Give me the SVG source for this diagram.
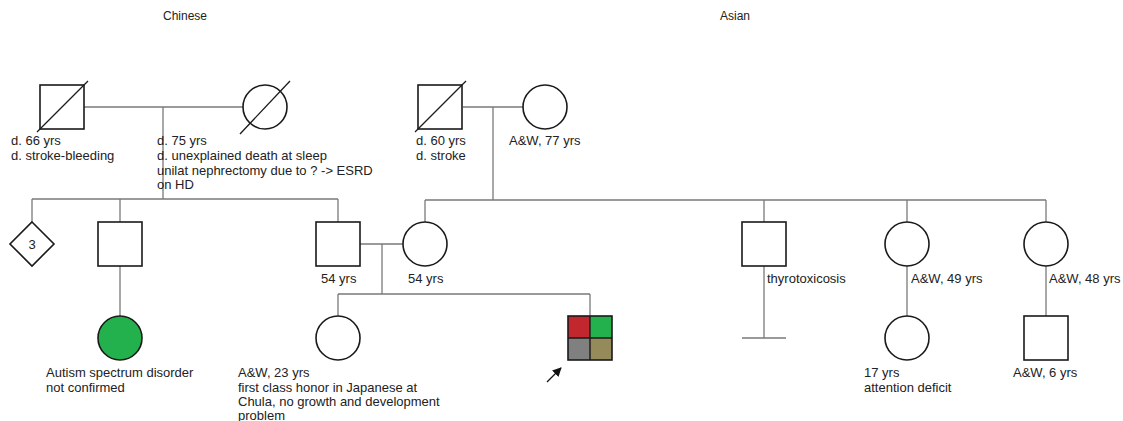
<svg xmlns="http://www.w3.org/2000/svg" width="1123" height="421" viewBox="0 0 1123 421">
<defs>
<style>
.s{fill:#fff;stroke:#1a1a1a;stroke-width:1.6}
.c{fill:none;stroke:#7a7a7a;stroke-width:1.3}
.d{stroke:#1a1a1a;stroke-width:1.3}
text{font-family:"Liberation Sans",Arial,sans-serif;font-size:13px;fill:#222}
.h{font-size:12px}
</style>
<marker id="ah" viewBox="0 0 10 10" refX="9" refY="5" markerWidth="9" markerHeight="9" orient="auto" markerUnits="userSpaceOnUse">
<path d="M0,0 L10,5 L0,10 z" fill="#111"/>
</marker>
</defs>
<rect width="1123" height="421" fill="#fff"/>
<text class="h" x="163" y="20">Chinese</text>
<text class="h" x="720" y="20">Asian</text>
<g id="connectors">
<path class="c" d="M84,107 H243 M163,107 V199 M32,199 H338 M32,199 V222 M120,199 V222 M338,199 V222 M120,266 V316"/>
<path class="c" d="M463,107 H523 M493,107 V200 M425,200 H1046 M425,200 V222 M764,200 V222 M907,200 V222 M1046,200 V222"/>
<path class="c" d="M360,244 H403 M382,244 V294 M338,294 H590 M338,294 V316 M590,294 V316"/>
<path class="c" d="M764,266 V338 M742,338 H786 M907,266 V316 M1046,266 V316"/>
<line x1="547" y1="382" x2="561" y2="368" stroke="#111" stroke-width="1.2" marker-end="url(#ah)"/>
</g>
<g id="pgf">
<rect class="s" x="40" y="85" width="44" height="44"/>
<line class="d" x1="37" y1="132" x2="88" y2="81"/>
<text x="11" y="145">d. 66 yrs</text>
<text x="11" y="160">d. stroke-bleeding</text>
</g>
<g id="pgm">
<circle class="s" cx="265" cy="107" r="22"/>
<line class="d" x1="240" y1="134" x2="290" y2="81"/>
<text x="157" y="145">d. 75 yrs</text>
<text x="157" y="160">d. unexplained death at sleep</text>
<text x="157" y="175">unilat nephrectomy due to ? -&gt; ESRD</text>
<text x="157" y="189">on HD</text>
</g>
<g id="mgf">
<rect class="s" x="418" y="85" width="44" height="44"/>
<line class="d" x1="415" y1="132" x2="466" y2="81"/>
<text x="416" y="145">d. 60 yrs</text>
<text x="416" y="160">d. stroke</text>
</g>
<g id="mgm">
<circle class="s" cx="545" cy="107" r="22"/>
<text x="509" y="145">A&amp;W, 77 yrs</text>
</g>
<g id="siblings3">
<polygon class="s" points="32,222 54,244 32,266 10,244"/>
<text x="32" y="249" text-anchor="middle">3</text>
</g>
<g id="uncle">
<rect class="s" x="98" y="222" width="44" height="44"/>
</g>
<g id="cousin-asd">
<circle cx="120" cy="338" r="22" fill="#22b14c" stroke="#1a1a1a" stroke-width="1.6"/>
<text x="46" y="377">Autism spectrum disorder</text>
<text x="46" y="392">not confirmed</text>
</g>
<g id="father">
<rect class="s" x="316" y="222" width="44" height="44"/>
<text x="321" y="283">54 yrs</text>
</g>
<g id="mother">
<circle class="s" cx="425" cy="244" r="22"/>
<text x="408" y="283">54 yrs</text>
</g>
<g id="sister">
<circle class="s" cx="338" cy="338" r="22"/>
<text x="238" y="377">A&amp;W, 23 yrs</text>
<text x="238" y="392">first class honor in Japanese at</text>
<text x="238" y="406">Chula, no growth and development</text>
<text x="238" y="420">problem</text>
</g>
<g id="proband">
<rect x="568" y="316" width="22" height="22" fill="#c1272d"/>
<rect x="590" y="316" width="22" height="22" fill="#22b14c"/>
<rect x="568" y="338" width="22" height="22" fill="#808080"/>
<rect x="590" y="338" width="22" height="22" fill="#958a5a"/>
<path d="M590,316 V360 M568,338 H612" stroke="#1a1a1a" stroke-width="1.4"/>
<rect x="568" y="316" width="44" height="44" fill="none" stroke="#1a1a1a" stroke-width="1.6"/>
</g>
<g id="uncle-thyro">
<rect class="s" x="742" y="222" width="44" height="44"/>
<text x="767" y="283">thyrotoxicosis</text>
</g>
<g id="aunt49">
<circle class="s" cx="907" cy="244" r="22"/>
<text x="911" y="283">A&amp;W, 49 yrs</text>
</g>
<g id="cousin17">
<circle class="s" cx="907" cy="338" r="22"/>
<text x="864" y="377">17 yrs</text>
<text x="864" y="392">attention deficit</text>
</g>
<g id="aunt48">
<circle class="s" cx="1046" cy="244" r="22"/>
<text x="1049" y="283">A&amp;W, 48 yrs</text>
</g>
<g id="cousin6">
<rect class="s" x="1024" y="316" width="44" height="44"/>
<text x="1013" y="377">A&amp;W, 6 yrs</text>
</g>
</svg>
